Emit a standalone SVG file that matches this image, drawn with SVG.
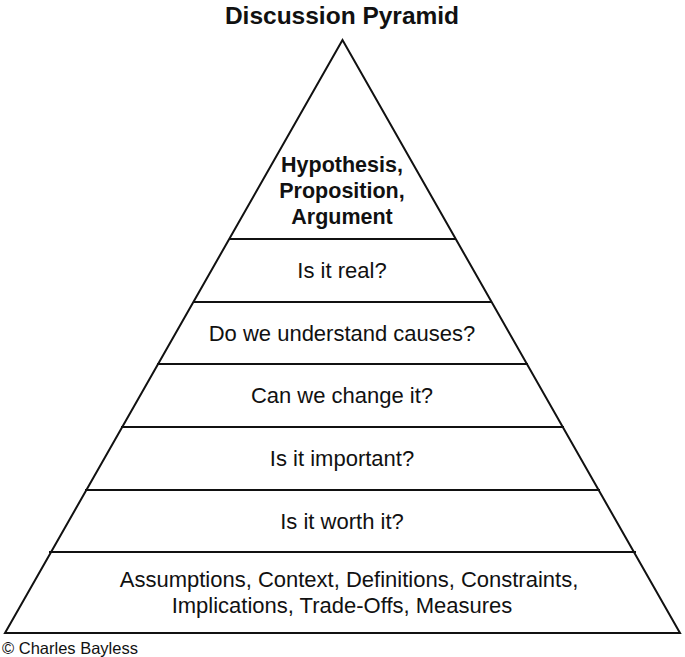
<svg xmlns="http://www.w3.org/2000/svg" width="685" height="657" viewBox="0 0 685 657">
<style>
.t{font-family:"Liberation Sans",Arial,sans-serif;font-size:22px;fill:#111;text-anchor:middle}
.b{font-weight:bold;font-size:21.5px}
.l{stroke:#111;stroke-width:2;fill:none}
</style>
<rect width="685" height="657" fill="#fff"/>
<text class="t b" x="342" y="24" style="font-size:24.5px">Discussion Pyramid</text>
<g id="pyramid"><polygon class="l" points="342.5,40 5,633 680,633"/></g>
<g id="connectors">
<line class="l" x1="229" y1="239" x2="456" y2="239"/>
<line class="l" x1="193" y1="302" x2="492" y2="302"/>
<line class="l" x1="157" y1="364" x2="528" y2="364"/>
<line class="l" x1="121" y1="427" x2="564" y2="427"/>
<line class="l" x1="85" y1="490" x2="600" y2="490"/>
<line class="l" x1="49" y1="552" x2="636" y2="552"/>
</g>
<g id="n1"><text class="t b" x="342" y="172">Hypothesis,</text><text class="t b" x="342" y="198">Proposition,</text><text class="t b" x="342" y="224">Argument</text></g>
<g id="n2"><text class="t" x="342" y="278">Is it real?</text></g>
<g id="n3"><text class="t" x="342" y="341">Do we understand causes?</text></g>
<g id="n4"><text class="t" x="342" y="403">Can we change it?</text></g>
<g id="n5"><text class="t" x="342" y="466">Is it important?</text></g>
<g id="n6"><text class="t" x="342" y="529">Is it worth it?</text></g>
<g id="n7"><text class="t" x="349" y="587">Assumptions, Context, Definitions, Constraints,</text><text class="t" x="342" y="613">Implications, Trade-Offs, Measures</text></g>
<text class="t" x="2" y="654" style="font-size:16.5px;text-anchor:start">© Charles Bayless</text>
</svg>
